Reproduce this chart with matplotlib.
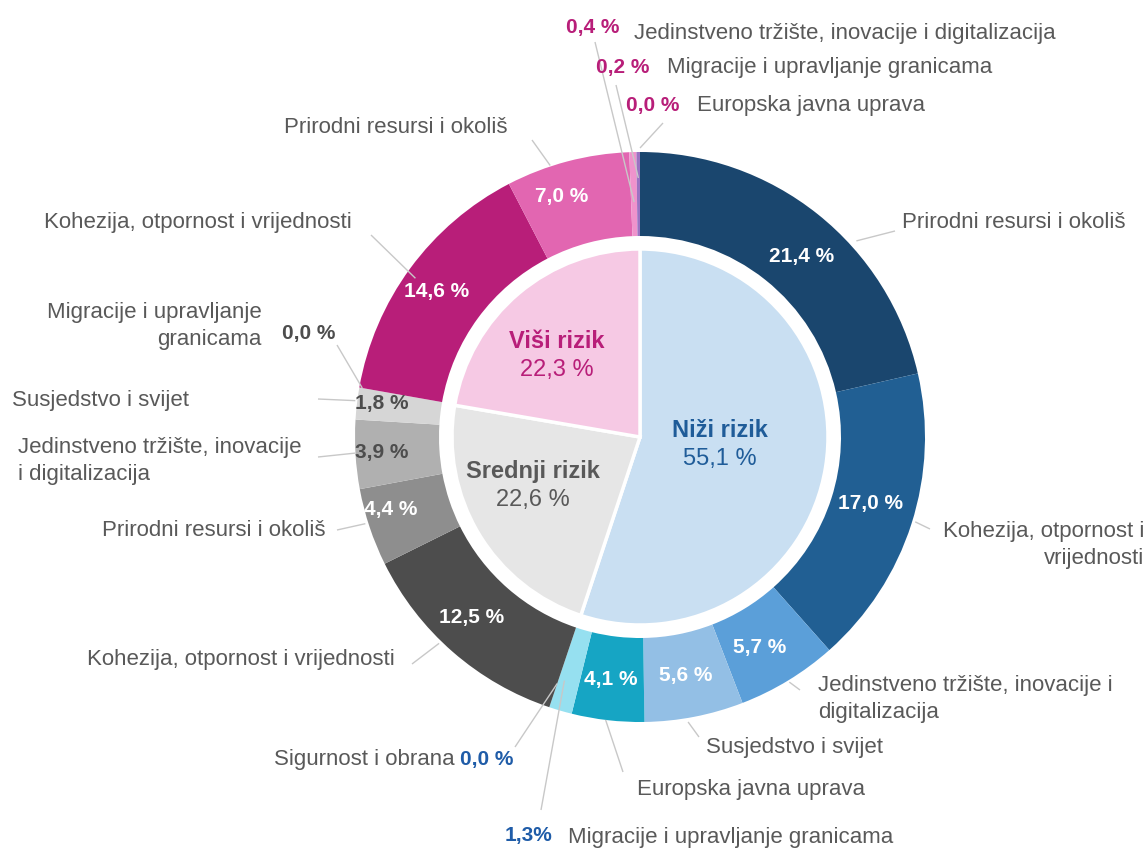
import matplotlib
matplotlib.use("Agg")
import matplotlib.pyplot as plt
import numpy as np

plt.rcParams['font.family'] = ['Liberation Sans', 'DejaVu Sans']

# ---------------- data ----------------
risk_groups = ["Niži rizik", "Srednji rizik", "Viši rizik"]
risk_values = [55.1, 22.6, 22.3]

low_categories = ["Prirodni resursi i okoliš", "Kohezija, otpornost i vrijednosti",
                  "Jedinstveno tržište, inovacije i digitalizacija", "Susjedstvo i svijet",
                  "Europska javna uprava", "Migracije i upravljanje granicama",
                  "Sigurnost i obrana"]
low_values = [21.4, 17.0, 5.7, 5.6, 4.1, 1.3, 0.0]

mid_categories = ["Kohezija, otpornost i vrijednosti", "Prirodni resursi i okoliš",
                  "Jedinstveno tržište, inovacije i digitalizacija", "Susjedstvo i svijet",
                  "Migracije i upravljanje granicama"]
mid_values = [12.5, 4.4, 3.9, 1.8, 0.0]

high_categories = ["Kohezija, otpornost i vrijednosti", "Prirodni resursi i okoliš",
                   "Jedinstveno tržište, inovacije i digitalizacija",
                   "Migracije i upravljanje granicama", "Europska javna uprava"]
high_values = [14.6, 7.0, 0.4, 0.2, 0.0]

# ---------------- style / layout ----------------
W, H = 1147, 850
CX, CY = 640, H - 437
R_OUT, RING_W, R_IN = 285, 84, 188

inner_colors = ["#c9dff2", "#e6e6e6", "#f6c9e4"]
inner_text_colors = ["#1f5c99", "#595959", "#b81e79"]
inner_label_pos = [(720, 445), (533, 486), (557, 356)]

low_colors = ["#1a466e", "#215f93", "#5b9fd9", "#93bfe5", "#16a5c4", "#96e0f0", "#0d4a9c"]
mid_colors = ["#4d4d4d", "#8e8e8e", "#b0b0b0", "#d6d6d6", "#e8e8e8"]
high_colors = ["#b81e79", "#e266b1", "#ef93cc", "#9b72c2", "#c0a0e0"]

GRAY_TXT = "#595959"
BLUE_TXT = "#1f5ca8"
PINK_TXT = "#b81e79"

# per outer slice: (display text, text xy, ha, pct xy, pct color, pct sep,
#                   leader start frac within slice, leader start radius, leader end xy)
outer_layout = [
    ("Prirodni resursi i okoliš", (902, 222), "left", (802, 256), "white", " ", 0.62, 292, (895, 231)),
    ("Kohezija, otpornost i\nvrijednosti", (1144, 545), "right", (870, 503), "white", " ", 0.49, 288, (930, 529)),
    ("Jedinstveno tržište, inovacije i\ndigitalizacija", (818, 699), "left", (760, 648), "white", " ", 0.5, 287, (800, 690)),
    ("Susjedstvo i svijet", (706, 748), "left", (686, 676), "white", " ", 0.57, 289, (699, 737)),
    ("Europska javna uprava", (637, 790), "left", (611, 680), "white", " ", 0.53, 285, (623, 772)),
    ("Migracije i upravljanje granicama", (568, 838), "left", (529, 836), BLUE_TXT, "", 0.72, 255, (541, 810)),
    ("Sigurnost i obrana", (455, 760), "right", (487, 760), BLUE_TXT, " ", 0.5, 260, (515, 747)),
    ("Kohezija, otpornost i vrijednosti", (395, 660), "right", (472, 617), "white", " ", 0.57, 288, (412, 664)),
    ("Prirodni resursi i okoliš", (326, 530), "right", (391, 510), "white", " ", 0.56, 288, (337, 530)),
    ("Jedinstveno tržište, inovacije\ni digitalizacija", (18, 461), "left", (382, 452), "#4d4d4d", " ", 0.52, 285, (318, 457)),
    ("Susjedstvo i svijet", (12, 400), "left", (382, 403), "#4d4d4d", " ", 0.58, 287, (318, 399)),
    ("Migracije i upravljanje\ngranicama", (262, 326), "right", (309, 333), "#4d4d4d", " ", 0.5, 282, (337, 345)),
    ("Kohezija, otpornost i vrijednosti", (352, 222), "right", (437, 291), "white", " ", 0.48, 275, (371, 235)),
    ("Prirodni resursi i okoliš", (508, 127), "right", (562, 196), "white", " ", 0.36, 286, (532, 140)),
    ("Jedinstveno tržište, inovacije i digitalizacija", (634, 33), "left", (593, 27), PINK_TXT, " ", 0.5, 235, (595, 42)),
    ("Migracije i upravljanje granicama", (667, 67), "left", (623, 67), PINK_TXT, " ", 0.5, 259, (616, 85)),
    ("Europska javna uprava", (697, 105), "left", (653, 105), PINK_TXT, " ", 0.5, 289, (663, 123)),
]


def fy(y):
    return H - y


fig = plt.figure(figsize=(W / 100, H / 100), dpi=100)
ax = fig.add_axes([0, 0, 1, 1])

outer_values = low_values + mid_values + high_values
outer_colors = low_colors + mid_colors + high_colors

ax.pie(outer_values, radius=R_OUT, center=(CX, CY), startangle=90, counterclock=False,
       colors=outer_colors, wedgeprops=dict(width=RING_W, linewidth=0))
ax.pie(risk_values, radius=R_IN, center=(CX, CY), startangle=90, counterclock=False,
       colors=inner_colors, wedgeprops=dict(linewidth=2.5, edgecolor="white"))

ax.set_xlim(0, W)
ax.set_ylim(0, H)
ax.set_aspect("equal")
ax.axis("off")

# inner labels
for name, val, col, (x, y) in zip(risk_groups, risk_values, inner_text_colors, inner_label_pos):
    ax.text(x, fy(y) + 15, name, ha="center", va="center", fontsize=17, fontweight="bold", color=col)
    ax.text(x, fy(y) - 14, f"{val:.1f}".replace(".", ",") + " %", ha="center", va="center",
            fontsize=17, color=col)

# outer labels
total = float(np.sum(outer_values))
cum = np.concatenate([[0.0], np.cumsum(outer_values)])
for i, (val, lay) in enumerate(zip(outer_values, outer_layout)):
    text, (tx, ty), ha, (px, py), pcol, sep, frac, rs, (ex, ey) = lay
    a0 = cum[i] / total * 360.0
    a1 = cum[i + 1] / total * 360.0
    ang = np.deg2rad(a0 + frac * (a1 - a0))
    sx = CX + rs * np.sin(ang)
    sy = CY + rs * np.cos(ang)
    ax.plot([sx, ex], [sy, fy(ey)], color="#c8c8c8", lw=1.0, zorder=1.5, solid_capstyle="butt")
    ax.text(px, fy(py), f"{val:.1f}".replace(".", ",") + sep + "%", ha="center", va="center",
            fontsize=15, fontweight="bold", color=pcol, zorder=4)
    ax.text(tx, fy(ty), text, ha=ha, va="center", fontsize=16, color=GRAY_TXT,
            linespacing=1.4, multialignment=ha, zorder=4)

fig.savefig("out.png", dpi=100, facecolor="white")
